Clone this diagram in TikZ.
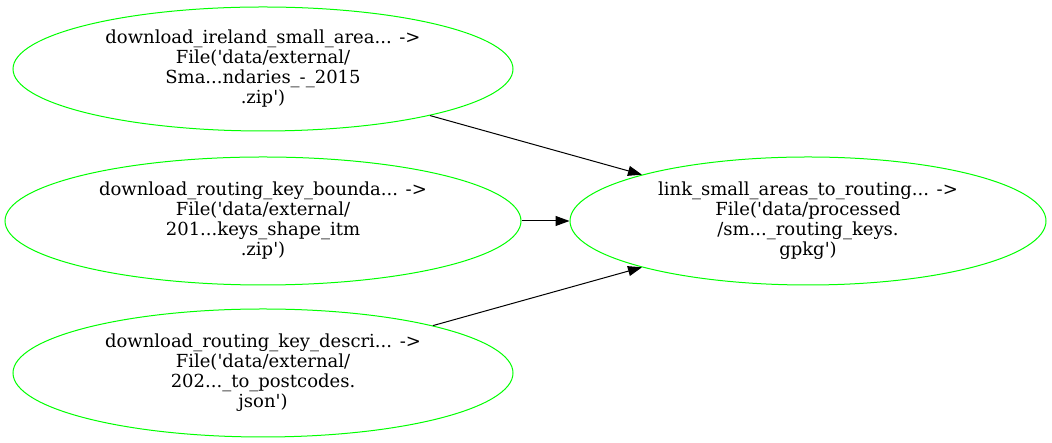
\documentclass[tikz,border=0pt]{standalone}
\usepackage{fontspec}
\setmainfont{DejaVu Serif}[Ligatures=TeXOff]
\usepackage{tikz}
\usetikzlibrary{arrows.meta}
\usetikzlibrary{shapes.geometric}

\begin{document}
\begin{tikzpicture}[x=1pt,y=1pt,
    task/.style={draw=green,line width=1pt,ellipse,inner sep=0pt,align=center,font=\fontsize{18}{20}\selectfont},
    dep/.style={-{Triangle[length=14pt,width=10pt]},line width=1pt}]
              \useasboundingbox (0,0) rectangle (1052,443);

              \node[task,minimum width=500,minimum height=124] (ireland) at (263,374) {download\_ireland\_small\_area... ->\\File('data/external/\\Sma...ndaries\_-\_2015\\.zip')};
              \node[task,minimum width=516,minimum height=128] (bounda) at (263,222) {download\_routing\_key\_bounda... ->\\File('data/external/\\201...keys\_shape\_itm\\.zip')};
              \node[task,minimum width=500,minimum height=128] (descri) at (263,70) {download\_routing\_key\_descri... ->\\File('data/external/\\202...\_to\_postcodes.\\json')};
              \node[task,minimum width=476,minimum height=128] (link) at (808,222) {link\_small\_areas\_to\_routing... ->\\File('data/processed\\/sm...\_routing\_keys.\\gpkg')};

              \draw[dep] (ireland) -- (link);
              \draw[dep] (bounda) -- (link);
              \draw[dep] (descri) -- (link);
            \end{tikzpicture}
\end{document}
